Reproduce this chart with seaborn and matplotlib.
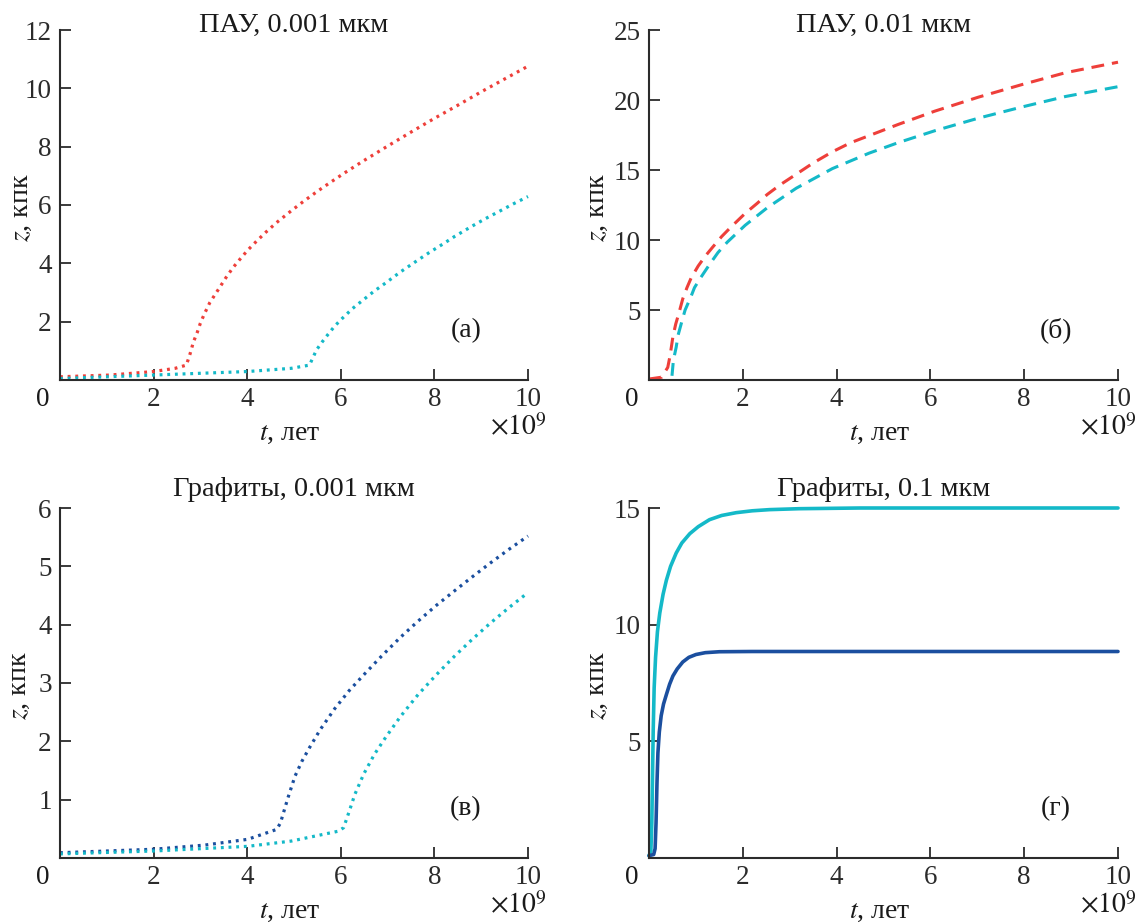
import numpy as np
import pandas as pd
import matplotlib
matplotlib.use("Agg")
import matplotlib.pyplot as plt
import seaborn as sns

# ---- data (t in units of 1e9 years, z in kpc) ----
# Panel a: PAH, 0.001 um (dotted)
a_red_t = [0.0, 1.07, 2.0, 2.46, 2.70, 2.78, 2.85, 2.93, 3.0, 3.08, 3.2, 3.39, 3.55, 3.70,
           3.85, 4.01, 4.2, 4.4, 4.63, 4.94, 5.2, 5.5, 5.8, 6.1, 6.49, 7.0, 7.5, 8.0, 8.5,
           9.0, 9.5, 10.0]
a_red_z = [0.11, 0.17, 0.29, 0.40, 0.51, 0.90, 1.30, 1.62, 1.95, 2.25, 2.65, 3.12, 3.52, 3.86,
           4.15, 4.45, 4.76, 5.07, 5.40, 5.80, 6.12, 6.47, 6.80, 7.12, 7.52, 8.02, 8.50, 8.97,
           9.42, 9.88, 10.32, 10.76]
a_cyan_t = [0.0, 2.0, 4.0, 4.94, 5.33, 5.40, 5.48, 5.60, 5.72, 5.87, 6.03, 6.25, 6.49, 6.70,
            6.96, 7.27, 7.60, 7.89, 8.20, 8.43, 8.81, 9.10, 9.43, 9.70, 10.0]
a_cyan_z = [0.05, 0.17, 0.29, 0.40, 0.51, 0.75, 1.03, 1.30, 1.55, 1.85, 2.11, 2.45, 2.76, 3.03,
            3.33, 3.70, 4.06, 4.37, 4.68, 4.92, 5.28, 5.54, 5.82, 6.05, 6.29]

# Panel b: PAH, 0.01 um (dashed)
b_red_t = [0.0, 0.27, 0.40, 0.45, 0.51, 0.57, 0.64, 0.72, 0.81, 0.90, 1.05, 1.20, 1.36, 1.55,
           1.74, 2.05, 2.30, 2.52, 2.80, 3.14, 3.50, 3.91, 4.30, 4.69, 5.31, 6.09, 7.02,
           7.95, 8.88, 10.0]
b_red_z = [0.07, 0.20, 0.90, 1.75, 3.10, 4.00, 4.80, 5.80, 6.60, 7.30, 8.15, 8.85, 9.50, 10.25,
           10.90, 11.90, 12.60, 13.25, 13.95, 14.70, 15.50, 16.30, 16.95, 17.45, 18.25,
           19.20, 20.20, 21.10, 21.95, 22.70]
b_cyan_t = [0.49, 0.52, 0.58, 0.62, 0.71, 0.77, 0.90, 0.97, 1.10, 1.28, 1.47, 1.67, 2.05,
            2.52, 3.14, 3.91, 4.69, 5.31, 6.09, 7.02, 7.95, 8.88, 10.0]
b_cyan_z = [0.30, 1.40, 2.35, 3.20, 4.30, 5.00, 6.00, 6.60, 7.30, 8.20, 9.10, 9.85, 11.05,
            12.30, 13.70, 15.10, 16.20, 16.95, 17.80, 18.70, 19.50, 20.25, 20.95]

# Panel c: graphite, 0.001 um (dotted)
c_blue_t = [0.0, 2.0, 3.08, 4.01, 4.63, 4.71, 4.87, 5.02, 5.17, 5.33, 5.56, 5.87, 6.18, 6.49,
            6.87, 7.27, 7.65, 8.04, 8.43, 8.81, 9.20, 9.59, 10.0]
c_blue_z = [0.09, 0.15, 0.22, 0.32, 0.49, 0.60, 1.03, 1.40, 1.66, 1.89, 2.20, 2.56, 2.87, 3.14,
            3.46, 3.78, 4.06, 4.33, 4.58, 4.82, 5.06, 5.29, 5.52]
c_cyan_t = [0.0, 2.0, 4.01, 4.94, 5.95, 6.06, 6.18, 6.30, 6.49, 6.72, 6.96, 7.27, 7.65, 8.04,
            8.43, 8.81, 9.20, 9.59, 10.0]
c_cyan_z = [0.07, 0.12, 0.20, 0.29, 0.46, 0.52, 0.80, 1.09, 1.44, 1.78, 2.07, 2.42, 2.80, 3.14,
            3.46, 3.75, 4.03, 4.29, 4.55]

# Panel d: graphite, 0.1 um (solid)
d_cyan_t = [0.0, 0.04, 0.06, 0.075, 0.09, 0.11, 0.14, 0.18, 0.23, 0.30, 0.37, 0.46, 0.58,
            0.70, 0.87, 1.05, 1.29, 1.55, 1.86, 2.20, 2.57, 3.20, 4.50, 10.0]
d_cyan_z = [0.10, 0.30, 1.50, 3.50, 5.50, 7.30, 8.60, 9.70, 10.50, 11.30, 11.90, 12.50, 13.07,
            13.50, 13.90, 14.20, 14.50, 14.68, 14.80, 14.88, 14.93, 14.97, 15.0, 15.0]
d_blue_t = [0.0, 0.10, 0.13, 0.15, 0.17, 0.19, 0.22, 0.26, 0.31, 0.37, 0.44, 0.51, 0.60,
            0.72, 0.85, 1.0, 1.2, 1.5, 2.2, 10.0]
d_blue_z = [0.10, 0.15, 0.40, 1.50, 3.20, 4.50, 5.40, 6.10, 6.60, 7.00, 7.45, 7.80, 8.10,
            8.40, 8.60, 8.72, 8.80, 8.84, 8.85, 8.85]

titles = ["ПАУ, 0.001 мкм", "ПАУ, 0.01 мкм", "Графиты, 0.001 мкм", "Графиты, 0.1 мкм"]
panel_tags = ["(а)", "(б)", "(в)", "(г)"]
y_ticks = [[2, 4, 6, 8, 10, 12], [5, 10, 15, 20, 25], [1, 2, 3, 4, 5, 6], [5, 10, 15]]
y_tops = [12, 25, 6, 15]
x_ticks = [2, 4, 6, 8, 10]

# ---- styling ----
RED = "#EE3F3A"
CYAN = "#14B9C8"
BLUE = "#1B4F9F"
INK = "#2b2b2b"

sns.set_theme(style="ticks")
plt.rcParams["font.family"] = ["Liberation Serif", "DejaVu Serif"]
plt.rcParams["mathtext.fontset"] = "stix"
plt.rcParams["axes.edgecolor"] = INK
plt.rcParams["xtick.color"] = INK
plt.rcParams["ytick.color"] = INK
plt.rcParams["text.color"] = "#1a1a1a"

fig = plt.figure(figsize=(11.41, 9.24), dpi=100)
W, H = 1141.0, 924.0
boxes = [(60, 30, 528, 380), (649, 30, 1118, 380), (60, 508, 528, 858), (649, 508, 1118, 858)]
axes = []
for (l, t, r, b) in boxes:
    axes.append(fig.add_axes([l / W, 1 - b / H, (r - l) / W, (b - t) / H]))

dotted = (0, (0.9, 1.5))
dashed = (0, (4.2, 2.6))

series = [
    [(a_red_t, a_red_z, RED, dotted, 2.3), (a_cyan_t, a_cyan_z, CYAN, dotted, 2.3)],
    [(b_red_t, b_red_z, RED, dashed, 2.2), (b_cyan_t, b_cyan_z, CYAN, dashed, 2.2)],
    [(c_blue_t, c_blue_z, BLUE, dotted, 2.3), (c_cyan_t, c_cyan_z, CYAN, dotted, 2.3)],
    [(d_cyan_t, d_cyan_z, CYAN, "-", 2.6), (d_blue_t, d_blue_z, BLUE, "-", 2.6)],
]

FS_TICK = 19.5
FS_LABEL = 20
FS_TITLE = 20.5
ylabel_offsets = [-39, -51, -40, -51]

for i, ax in enumerate(axes):
    for (tt, zz, col, ls, lw) in series[i]:
        df = pd.DataFrame({"t": tt, "z": zz})
        sns.lineplot(data=df, x="t", y="z", ax=ax, color=col, linestyle=ls,
                     linewidth=lw, sort=False, estimator=None, clip_on=False)
    ax.set_xlim(0, 10)
    ax.set_ylim(0, y_tops[i])
    ax.set_xticks(x_ticks)
    ax.set_yticks(y_ticks[i])
    ax.tick_params(direction="in", length=8, width=1.3, labelsize=FS_TICK)
    ax.tick_params(axis="y", pad=6)
    ax.tick_params(axis="x", pad=5)
    for s in ["top", "right"]:
        ax.spines[s].set_visible(False)
    for s in ["left", "bottom"]:
        ax.spines[s].set_linewidth(1.5)
    ax.set_xlabel("")
    ax.set_ylabel("")
    # shared origin label
    ax.annotate("0", xy=(0, 0), xycoords="axes fraction", xytext=(-17, -19),
                textcoords="offset pixels", ha="center", va="center", fontsize=FS_TICK)
    # axis titles
    ax.annotate("$t$, лет", xy=(0.5, 0), xycoords="axes fraction", xytext=(-4, -53),
                textcoords="offset pixels", ha="center", va="center", fontsize=FS_LABEL)
    ax.annotate(r"$\times10^{9}$", xy=(1, 0), xycoords="axes fraction", xytext=(19, -48),
                textcoords="offset pixels", ha="right", va="center", fontsize=FS_LABEL)
    ax.annotate("$z$, кпк", xy=(0, 0.5), xycoords="axes fraction",
                xytext=(ylabel_offsets[i], -3), textcoords="offset pixels",
                ha="center", va="center", rotation=90, fontsize=FS_LABEL)
    title_off = 5 if i < 2 else 19
    ax.annotate(titles[i], xy=(0.5, 1), xycoords="axes fraction", xytext=(0, title_off),
                textcoords="offset pixels", ha="center", va="center", fontsize=FS_TITLE)
    ax.text(0.867, 0.142, panel_tags[i], transform=ax.transAxes, ha="center",
            va="center", fontsize=FS_LABEL)

fig.savefig("out.png", dpi=100)
